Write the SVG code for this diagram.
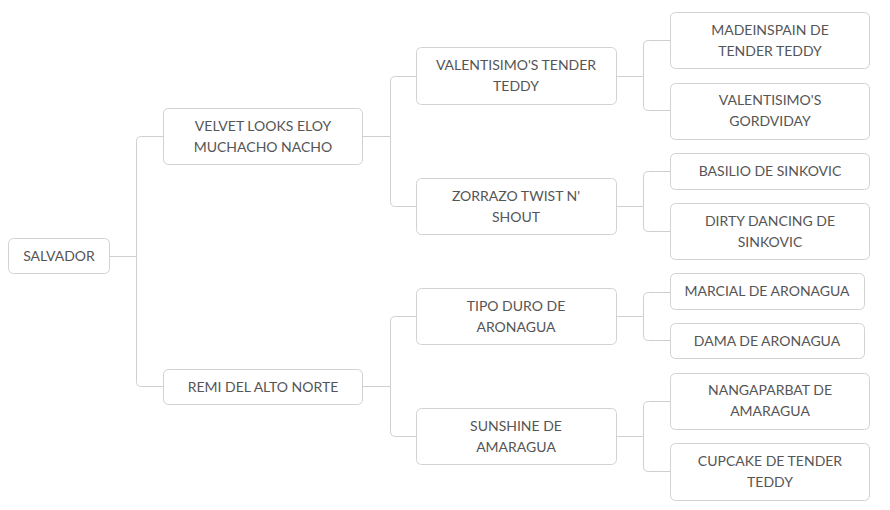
<svg xmlns="http://www.w3.org/2000/svg" width="890" height="510" viewBox="0 0 890 510">
<style>
.n rect{fill:#fff;stroke:#d2d2d2;stroke-width:1}
.n text{font-family:Lato,"Liberation Sans",sans-serif;font-size:14px;fill:#555;text-anchor:middle}
.c path{fill:none;stroke:#cfcfcf;stroke-width:1}
</style>
<rect width="890" height="510" fill="#fff"/>
<g class="c">
<path d="M109.5,256.5H136.5"/>
<path d="M136.5,256.5V141.5Q136.5,136.5 141.5,136.5H163.5"/>
<path d="M136.5,256.5V381.5Q136.5,386.5 141.5,386.5H163.5"/>
<path d="M362.5,136.5H390.5"/>
<path d="M390.5,136.5V81.5Q390.5,76.5 395.5,76.5H416.5"/>
<path d="M390.5,136.5V201.5Q390.5,206.5 395.5,206.5H416.5"/>
<path d="M362.5,386.5H390.5"/>
<path d="M390.5,386.5V321.5Q390.5,316.5 395.5,316.5H416.5"/>
<path d="M390.5,386.5V431.5Q390.5,436.5 395.5,436.5H416.5"/>
<path d="M616.5,76.5H643.5"/>
<path d="M643.5,76.5V45.5Q643.5,40.5 648.5,40.5H670.5"/>
<path d="M643.5,76.5V105.5Q643.5,110.5 648.5,110.5H670.5"/>
<path d="M616.5,206.5H643.5"/>
<path d="M643.5,206.5V176.5Q643.5,171.5 648.5,171.5H670.5"/>
<path d="M643.5,206.5V226.5Q643.5,231.5 648.5,231.5H670.5"/>
<path d="M616.5,316.5H643.5"/>
<path d="M643.5,316.5V297.5Q643.5,292.5 648.5,292.5H670.5"/>
<path d="M643.5,316.5V335.5Q643.5,340.5 648.5,340.5H670.5"/>
<path d="M616.5,436.5H643.5"/>
<path d="M643.5,436.5V406.5Q643.5,401.5 648.5,401.5H670.5"/>
<path d="M643.5,436.5V466.5Q643.5,471.5 648.5,471.5H670.5"/>
</g>
<g id="salvador" class="n"><rect x="8.5" y="238.5" width="101" height="35" rx="5"/><text x="59" y="261">SALVADOR</text></g>
<g id="velvet" class="n"><rect x="163.5" y="108.5" width="199" height="56" rx="5"/><text x="263" y="131">VELVET LOOKS ELOY</text><text x="263" y="152">MUCHACHO NACHO</text></g>
<g id="remi" class="n"><rect x="163.5" y="369.5" width="199" height="35" rx="5"/><text x="263" y="392">REMI DEL ALTO NORTE</text></g>
<g id="valentisimo-tender" class="n"><rect x="416.5" y="47.5" width="200" height="57" rx="5"/><text x="516" y="70">VALENTISIMO'S TENDER</text><text x="516" y="91">TEDDY</text></g>
<g id="zorrazo" class="n"><rect x="416.5" y="178.5" width="200" height="56" rx="5"/><text x="516" y="201">ZORRAZO TWIST N'</text><text x="516" y="222">SHOUT</text></g>
<g id="tipo" class="n"><rect x="416.5" y="288.5" width="200" height="56" rx="5"/><text x="516" y="311">TIPO DURO DE</text><text x="516" y="332">ARONAGUA</text></g>
<g id="sunshine" class="n"><rect x="416.5" y="408.5" width="200" height="56" rx="5"/><text x="516" y="431">SUNSHINE DE</text><text x="516" y="452">AMARAGUA</text></g>
<g id="madeinspain" class="n"><rect x="670.5" y="12.5" width="199" height="56" rx="5"/><text x="770" y="35">MADEINSPAIN DE</text><text x="770" y="56">TENDER TEDDY</text></g>
<g id="gordviday" class="n"><rect x="670.5" y="83.5" width="199" height="56" rx="5"/><text x="770" y="105">VALENTISIMO'S</text><text x="770" y="126">GORDVIDAY</text></g>
<g id="basilio" class="n"><rect x="670.5" y="153.5" width="199" height="36" rx="5"/><text x="770" y="176">BASILIO DE SINKOVIC</text></g>
<g id="dirty" class="n"><rect x="670.5" y="203.5" width="199" height="56" rx="5"/><text x="770" y="226">DIRTY DANCING DE</text><text x="770" y="247">SINKOVIC</text></g>
<g id="marcial" class="n"><rect x="670.5" y="273.5" width="194" height="36" rx="5"/><text x="767" y="296">MARCIAL DE ARONAGUA</text></g>
<g id="dama" class="n"><rect x="670.5" y="323.5" width="194" height="35" rx="5"/><text x="767" y="346">DAMA DE ARONAGUA</text></g>
<g id="nangaparbat" class="n"><rect x="670.5" y="373.5" width="199" height="56" rx="5"/><text x="770" y="395">NANGAPARBAT DE</text><text x="770" y="416">AMARAGUA</text></g>
<g id="cupcake" class="n"><rect x="670.5" y="443.5" width="199" height="57" rx="5"/><text x="770" y="466">CUPCAKE DE TENDER</text><text x="770" y="487">TEDDY</text></g>
</svg>
